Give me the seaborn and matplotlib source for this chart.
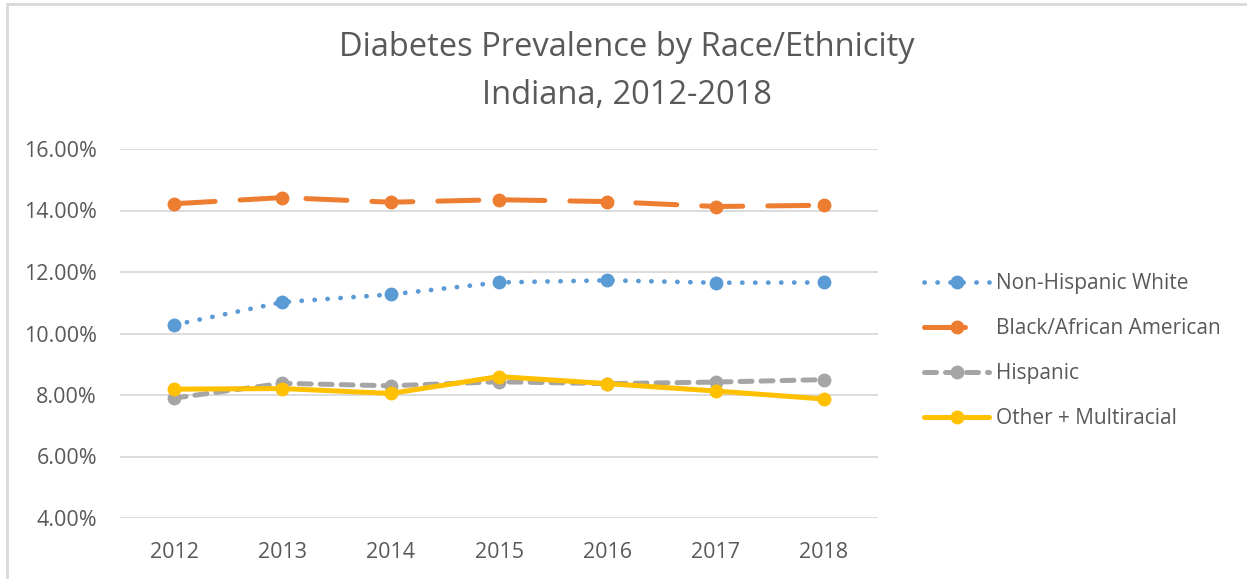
import matplotlib
matplotlib.use("Agg")
import matplotlib.pyplot as plt
from matplotlib.lines import Line2D
from matplotlib.patches import Rectangle
from matplotlib.ticker import FuncFormatter
import seaborn as sns
import pandas as pd

years = ["2012", "2013", "2014", "2015", "2016", "2017", "2018"]
white = [10.28, 11.02, 11.27, 11.66, 11.73, 11.65, 11.66]
black = [14.22, 14.42, 14.27, 14.35, 14.29, 14.13, 14.17]
hispanic = [7.90, 8.38, 8.30, 8.43, 8.37, 8.42, 8.50]
other = [8.19, 8.21, 8.05, 8.60, 8.37, 8.13, 7.87]

series_names = ["Non-Hispanic White", "Black/African American", "Hispanic", "Other + Multiracial"]
series_values = [white, black, hispanic, other]
colors = ["#5B9BD5", "#ED7D31", "#A5A5A5", "#FFC000"]
widths = [3.4, 3.6, 3.6, 3.6]
dash_patterns = [(0.05, 2.7), (8.2, 5.0), (2.4, 1.8), None]

sns.set_theme(style="white")
plt.rcParams["font.family"] = ["Open Sans", "DejaVu Sans"]
text_color = "#595959"

fig = plt.figure(figsize=(12.47, 5.79), dpi=100)
ax = fig.add_axes([120 / 1247, 1 - 518 / 579, (878 - 120) / 1247, (518 - 149) / 579])

for name, vals, col, lw, dash in zip(series_names, series_values, colors, widths, dash_patterns):
    df = pd.DataFrame({"year": years, "value": vals})
    sns.lineplot(data=df, x="year", y="value", ax=ax, color=col, marker="o",
                 markersize=10, markeredgewidth=0, linewidth=lw, sort=False,
                 label=name, legend=False)
    line = ax.lines[-1]
    line.set_solid_capstyle("round")
    line.set_dash_capstyle("round")
    if dash is not None:
        line.set_dashes(dash)

ax.set_xlim(-0.5, 6.5)
ax.set_ylim(4, 16)
ax.set_yticks([4, 6, 8, 10, 12, 14, 16])
ax.yaxis.set_major_formatter(FuncFormatter(lambda v, p: f"{v:.2f}%"))
ax.grid(axis="y", color="#D9D9D9", linewidth=1.3)
ax.grid(axis="x", visible=False)
ax.set_axisbelow(True)
for s in ax.spines.values():
    s.set_visible(False)
ax.set_xlabel("")
ax.set_ylabel("")
ax.tick_params(axis="both", length=0, labelsize=15.5, colors=text_color)
ax.tick_params(axis="y", pad=16.5)
ax.tick_params(axis="x", pad=17)

# Two-line chart title
fig.text(627 / 1247, 1 - 48 / 579, "Diabetes Prevalence by Race/Ethnicity",
         ha="center", va="center", fontsize=23.5, color=text_color)
fig.text(627 / 1247, 1 - 95 / 579, "Indiana, 2012-2018",
         ha="center", va="center", fontsize=23.5, color=text_color)

handles = []
for col, lw, dash in zip(colors, widths, dash_patterns):
    h = Line2D([], [], color=col, marker="o", markersize=10, markeredgewidth=0,
               linewidth=lw, solid_capstyle="round", dash_capstyle="round")
    if dash is not None:
        h.set_dashes(dash)
    handles.append(h)

leg = fig.legend(handles, series_names, loc="center left",
                 bbox_to_anchor=(905 / 1247, 1 - 351 / 579), frameon=False,
                 fontsize=15, handlelength=3.15, handletextpad=0.3,
                 labelspacing=1.15, labelcolor=text_color)

# Light chart-area border
fig.patches.append(Rectangle((7 / 1247, -0.05), 1.1, 1 - 4 / 579 + 0.05,
                             transform=fig.transFigure, fill=False,
                             edgecolor="#D9D9D9", linewidth=2))

fig.savefig("out.png", dpi=100, facecolor="white")
